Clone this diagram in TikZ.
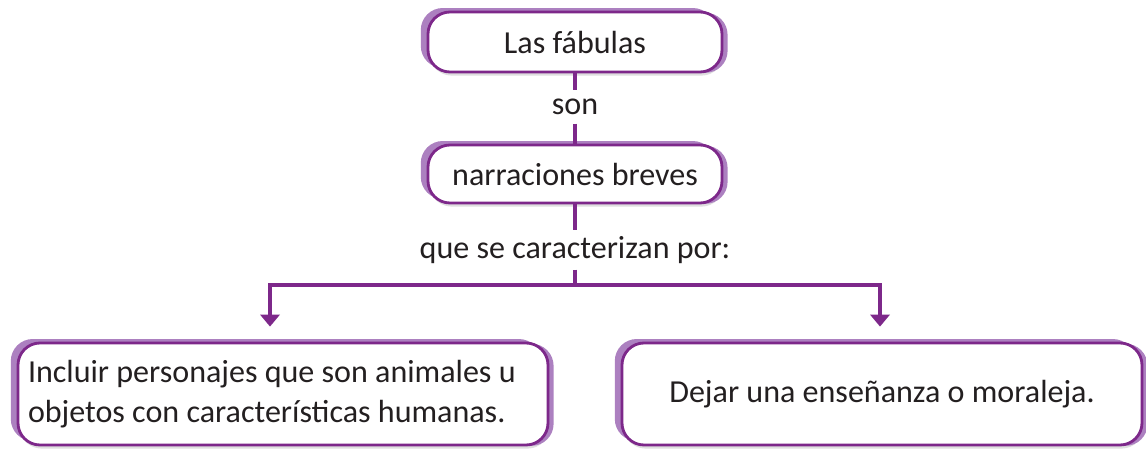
\documentclass[tikz,border=0pt]{standalone}
\usepackage{fontspec}
\setmainfont{Carlito}
\usepackage{tikz}
\usetikzlibrary{positioning, arrows.meta, shadows}
\definecolor{mapline}{RGB}{125,40,138}
\definecolor{mapback}{RGB}{172,128,192}
\definecolor{maptext}{RGB}{35,31,32}

\begin{document}
\begin{tikzpicture}[
  conceptbox/.style={rectangle, draw=mapline, line width=2pt, fill=white, rounded corners=0.55cm, align=center, text=maptext,
    drop shadow={opacity=0.25, shadow xshift=0.04cm, shadow yshift=-0.09cm},
    general shadow={fill=mapback, shadow xshift=-0.18cm, shadow yshift=0.1cm},
    general shadow={fill=mapback, shadow xshift=0.14cm, shadow yshift=-0.02cm}},
  linklabel/.style={text=maptext, inner sep=4pt},
  link/.style={draw=mapline, line width=2.2pt},
  font=\fontsize{22.8}{28.5}\selectfont,
  on grid
]
\useasboundingbox (0,0) rectangle (28.65,-11.25);
\node[conceptbox, minimum width=7.35cm, minimum height=1.5cm] (fabulas) at (14.375,-1.05) {Las fábulas};
\node[linklabel, inner sep=6pt, below=1.625cm of fabulas] (son) {son};
\node[conceptbox, minimum width=7.35cm, minimum height=1.45cm, below=1.675cm of son] (narraciones) {narraciones breves};
\node[linklabel, below=1.9cm of narraciones] (rasgos) {que se caracterizan por:};
\node[conceptbox, align=flush left, text width=12.75cm, minimum width=13.25cm, minimum height=2.55cm, below left=3.6cm and 7.3cm of rasgos] (personajes) {Incluir personajes que son animales u\\objetos con características humanas.};
\node[conceptbox, minimum width=13cm, minimum height=2.55cm, below right=3.6cm and 7.675cm of rasgos] (moraleja) {Dejar una enseñanza o moraleja.};

\coordinate[below=0.875cm of rasgos] (split);
\coordinate (lefttip) at ([xshift=-0.325cm, yshift=0.375cm]personajes.north);
\coordinate (righttip) at ([xshift=-0.05cm, yshift=0.375cm]moraleja.north);

\draw[link] (fabulas) -- (son);
\draw[link] (son) -- (narraciones);
\draw[link] (narraciones) -- (rasgos);
\draw[link] (rasgos) -- (split);
\draw[link, -{Triangle[width=0.48cm, length=0.3cm]}] (split) -| (lefttip);
\draw[link, -{Triangle[width=0.48cm, length=0.3cm]}] (split) -| (righttip);
\end{tikzpicture}
\end{document}
